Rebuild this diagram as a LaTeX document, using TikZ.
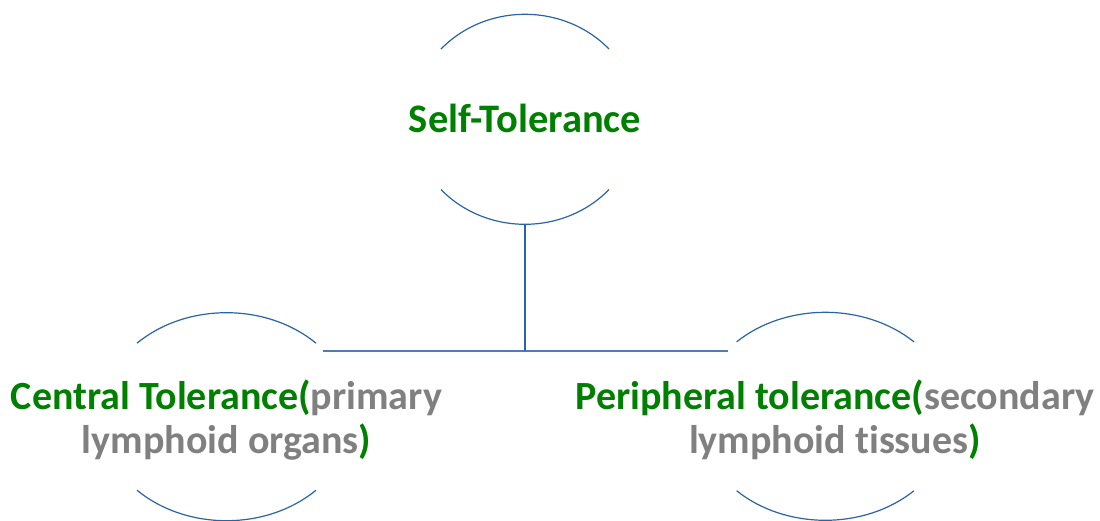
\documentclass[tikz,border=0pt]{standalone}
\usepackage{fontspec}
\setmainfont[Ligatures=NoCommon]{Carlito}
\definecolor{txtgreen}{RGB}{0,128,0}
\definecolor{txtgrey}{RGB}{128,128,128}
\definecolor{arcblue}{RGB}{40,100,170}
\definecolor{lineblue}{RGB}{74,126,187}
\tikzset{
  arcline/.style={draw=arcblue, line width=1.2pt},
  conn/.style={draw=lineblue, line width=2pt},
  label/.style={font=\bfseries\fontsize{40}{44}\selectfont, text=txtgreen, align=center, inner sep=0pt}
}
\newcommand{\gy}[1]{\textcolor{txtgrey}{#1}}
\begin{document}
\begin{tikzpicture}[x=1pt,y=-1pt]
\useasboundingbox[fill=white] (0,0) rectangle (1100,521);
% circle centres
\coordinate (ctop) at (525,119.3);
\coordinate (cleft) at (226.5,416.7);
\coordinate (cright) at (825.3,416.3);
% arcs
\draw[arcline] ([shift={(222:113 and 105)}]ctop) arc[start angle=222, end angle=318, x radius=113, y radius=105];
\draw[arcline] ([shift={(138:113 and 105)}]ctop) arc[start angle=138, end angle=42, x radius=113, y radius=105];
\draw[arcline] ([shift={(225:126.5 and 104)}]cleft) arc[start angle=225, end angle=315, x radius=126.5, y radius=104];
\draw[arcline] ([shift={(135:126.5 and 104)}]cleft) arc[start angle=135, end angle=45, x radius=126.5, y radius=104];
\draw[arcline] ([shift={(225.7:127 and 104)}]cright) arc[start angle=225.7, end angle=314.3, x radius=127, y radius=104];
\draw[arcline] ([shift={(134.3:127 and 104)}]cright) arc[start angle=134.3, end angle=45.7, x radius=127, y radius=104];
% texts
\node[label, font=\bfseries\fontsize{40.5}{44}\selectfont, anchor=base] (self) at (525,132.5) {Self-Tolerance};
\node[label] (central) at (226.5,420) {Central Tolerance(\gy{primary}\\\gy{lymphoid organs})};
\node[label] (peripheral) at (835,420) {Peripheral tolerance(\gy{secondary}\\\gy{lymphoid tissues})};
% connectors
\coordinate (stop) at (525,224.3);
\coordinate (hub) at (525,350.7);
\coordinate (hl) at (322.7,350.7);
\coordinate (hr) at (727.7,350.7);
\draw[conn] (hl) -- (hr);
\draw[conn, draw=arcblue] (stop) -- (hub);
\end{tikzpicture}
\end{document}
